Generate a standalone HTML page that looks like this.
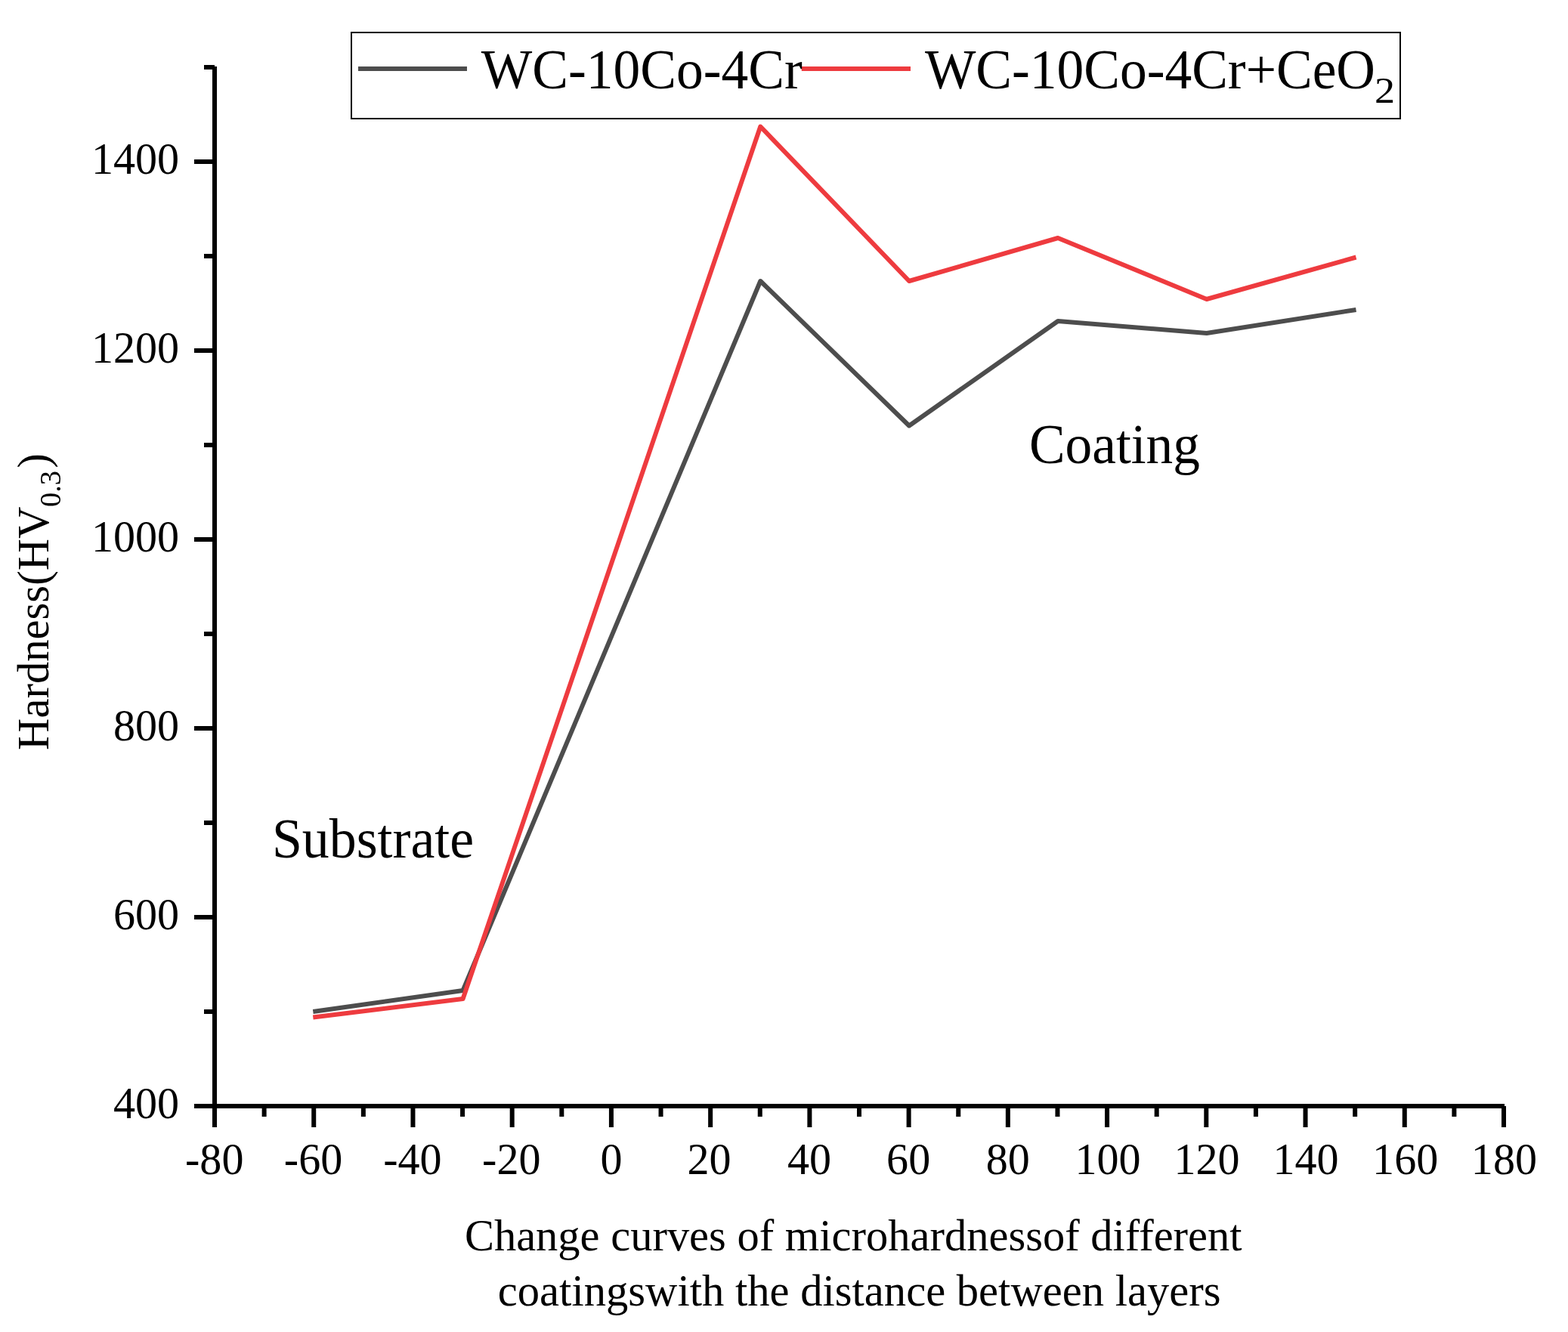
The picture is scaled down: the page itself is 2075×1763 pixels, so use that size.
<!DOCTYPE html>
<html>
<head>
<meta charset="utf-8">
<title>Microhardness curves</title>
<style>
html,body{margin:0;padding:0;background:#fff;}
body{width:2075px;height:1763px;overflow:hidden;}
svg{display:block;}
text{font-family:"Liberation Serif","Times New Roman",serif;fill:#000;}
</style>
</head>
<body>
<svg width="2075" height="1763" viewBox="0 0 2075 1763">
<rect x="0" y="0" width="2075" height="1763" fill="#fff"/>
<g fill="none" stroke-width="6" stroke-linejoin="round" stroke-linecap="butt">
<polyline stroke="#4d4d4d" points="414.3,1339 612.6,1311 1006.3,372 1203.1,563.5 1400.0,425 1596.8,441 1794.5,410"/>
<polyline stroke="#ee3b3f" points="414.3,1346.5 612.6,1322 1006.3,167.5 1203.1,372 1400.0,315 1596.8,396 1794.5,340.5"/>
</g>
<g fill="#000">
<rect x="281" y="88" width="6" height="1379"/>
<rect x="281" y="1461" width="1710" height="6"/>
<rect x="257" y="1461.00" width="27" height="6"/>
<rect x="257" y="1211.00" width="27" height="6"/>
<rect x="257" y="961.00" width="27" height="6"/>
<rect x="257" y="711.00" width="27" height="6"/>
<rect x="257" y="461.00" width="27" height="6"/>
<rect x="257" y="211.00" width="27" height="6"/>
<rect x="270" y="1336.00" width="14" height="6"/>
<rect x="270" y="1086.00" width="14" height="6"/>
<rect x="270" y="836.00" width="14" height="6"/>
<rect x="270" y="586.00" width="14" height="6"/>
<rect x="270" y="336.00" width="14" height="6"/>
<rect x="270" y="86.00" width="14" height="6"/>
<rect x="281.00" y="1464" width="6" height="28"/>
<rect x="412.23" y="1464" width="6" height="28"/>
<rect x="543.46" y="1464" width="6" height="28"/>
<rect x="674.69" y="1464" width="6" height="28"/>
<rect x="805.92" y="1464" width="6" height="28"/>
<rect x="937.15" y="1464" width="6" height="28"/>
<rect x="1068.38" y="1464" width="6" height="28"/>
<rect x="1199.62" y="1464" width="6" height="28"/>
<rect x="1330.85" y="1464" width="6" height="28"/>
<rect x="1462.08" y="1464" width="6" height="28"/>
<rect x="1593.31" y="1464" width="6" height="28"/>
<rect x="1724.54" y="1464" width="6" height="28"/>
<rect x="1855.77" y="1464" width="6" height="28"/>
<rect x="1987.00" y="1464" width="6" height="28"/>
<rect x="346.62" y="1464" width="6" height="14"/>
<rect x="477.85" y="1464" width="6" height="14"/>
<rect x="609.08" y="1464" width="6" height="14"/>
<rect x="740.31" y="1464" width="6" height="14"/>
<rect x="871.54" y="1464" width="6" height="14"/>
<rect x="1002.77" y="1464" width="6" height="14"/>
<rect x="1134.00" y="1464" width="6" height="14"/>
<rect x="1265.23" y="1464" width="6" height="14"/>
<rect x="1396.46" y="1464" width="6" height="14"/>
<rect x="1527.69" y="1464" width="6" height="14"/>
<rect x="1658.92" y="1464" width="6" height="14"/>
<rect x="1790.15" y="1464" width="6" height="14"/>
<rect x="1921.38" y="1464" width="6" height="14"/>
</g>
<rect x="465" y="43" width="1388" height="114" fill="none" stroke="#000" stroke-width="2"/>
<rect x="474" y="88" width="144" height="6" fill="#4d4d4d"/>
<rect x="1060.8" y="88" width="144.2" height="6" fill="#ee3b3f"/>
<text transform="translate(150.00,1480.10) scale(0.965,1)" font-size="60.2">400</text>
<text transform="translate(150.00,1230.10) scale(0.965,1)" font-size="60.2">600</text>
<text transform="translate(150.00,980.10) scale(0.965,1)" font-size="60.2">800</text>
<text transform="translate(121.00,730.10) scale(0.965,1)" font-size="60.2">1000</text>
<text transform="translate(121.00,480.10) scale(0.965,1)" font-size="60.2">1200</text>
<text transform="translate(121.00,230.10) scale(0.965,1)" font-size="60.2">1400</text>
<text transform="translate(245.00,1554.00) scale(0.965,1)" font-size="60.2">-80</text>
<text transform="translate(375.80,1554.00) scale(0.965,1)" font-size="60.2">-60</text>
<text transform="translate(507.20,1554.00) scale(0.965,1)" font-size="60.2">-40</text>
<text transform="translate(638.10,1554.00) scale(0.965,1)" font-size="60.2">-20</text>
<text transform="translate(794.40,1554.00) scale(0.965,1)" font-size="60.2">0</text>
<text transform="translate(909.40,1554.00) scale(0.965,1)" font-size="60.2">20</text>
<text transform="translate(1041.90,1554.00) scale(0.965,1)" font-size="60.2">40</text>
<text transform="translate(1173.10,1554.00) scale(0.965,1)" font-size="60.2">60</text>
<text transform="translate(1304.80,1554.00) scale(0.965,1)" font-size="60.2">80</text>
<text transform="translate(1422.40,1554.00) scale(0.965,1)" font-size="60.2">100</text>
<text transform="translate(1553.40,1554.00) scale(0.965,1)" font-size="60.2">120</text>
<text transform="translate(1684.40,1554.00) scale(0.965,1)" font-size="60.2">140</text>
<text transform="translate(1816.10,1554.00) scale(0.965,1)" font-size="60.2">160</text>
<text transform="translate(1946.85,1554.00) scale(0.965,1)" font-size="60.2">180</text>
<text transform="translate(636.70,117.00) scale(0.9587,1)" font-size="74.6">WC-10Co-4Cr</text>
<text transform="translate(1223.90,117.00) scale(0.958,1)" font-size="74.6">WC-10Co-4Cr+CeO</text>
<text transform="translate(1818.90,136.00) scale(1.1,1)" font-size="49.2">2</text>
<text transform="translate(1361.90,612.90) scale(0.957,1)" font-size="74.6">Coating</text>
<text transform="translate(359.90,1134.80) scale(0.9655,1)" font-size="74.4">Substrate</text>
<text transform="translate(614.90,1654.80) scale(0.985,1)" font-size="59.4">Change curves of microhardnessof different</text>
<text transform="translate(658.80,1728.00) scale(0.9866,1)" font-size="59.4">coatingswith the distance between layers</text>
<text transform="translate(64.00,992.90) rotate(-90) scale(0.977,1)" font-size="60">Hardness(HV</text>
<text transform="translate(79.90,670.90) rotate(-90) scale(0.952,1)" font-size="40.3">0.3</text>
<text transform="translate(64.00,619.80) rotate(-90) scale(0.977,1)" font-size="60">)</text>
</svg>
</body>
</html>
